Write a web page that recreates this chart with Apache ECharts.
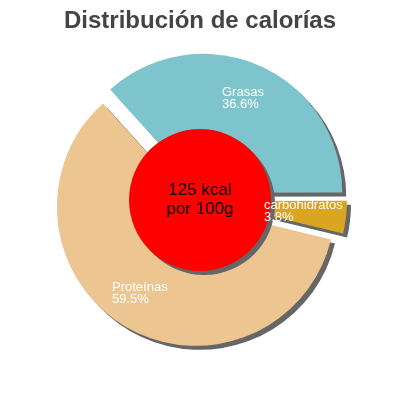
<!DOCTYPE html>
<html>
<head>
<meta charset="utf-8">
<script src="https://cdn.jsdelivr.net/npm/echarts@6/dist/echarts.min.js"></script>
<style>html,body{margin:0;padding:0;background:#fff}#c{width:400px;height:400px}</style>
</head>
<body>
<div id="c"></div>
<script>
const categories = ['Grasas', 'carbohidratos', 'Proteínas'];
const percents = [36.6, 3.8, 59.5];
const colors = ['#7DC4CC', '#DAA520', '#EDC591'];
const centerLines = ['125 kcal', 'por 100g'];
const titleText = 'Distribución de calorías';

const labelPos = [[222, 86], [264, 199], [112, 281]];
const shadow = { shadowColor: '#666', shadowBlur: 0, shadowOffsetX: 4, shadowOffsetY: 4 };
const FONT = 'Liberation Sans, Arial, sans-serif';

const chart = echarts.init(document.getElementById('c'), null, { renderer: 'canvas' });
chart.setOption({
  animation: false,
  title: {
    text: titleText, left: 'center', top: 4,
    textStyle: { fontFamily: FONT, fontSize: 24, fontWeight: 'bold', color: '#444' }
  },
  series: [
    {
      type: 'pie', z: 2,
      center: ['50%', '50%'],
      radius: [0, 139],
      startAngle: 132,
      selectedMode: 'multiple',
      selectedOffset: 8,
      silent: true,
      label: { show: false },
      labelLine: { show: false },
      data: categories.map((c, i) => ({
        name: c, value: percents[i], selected: true,
        itemStyle: Object.assign({ color: colors[i] }, shadow),
        select: { itemStyle: Object.assign({ color: colors[i] }, shadow) }
      }))
    },
    {
      type: 'pie', z: 3,
      center: ['50%', '50%'],
      radius: [0, 71],
      silent: true,
      label: {
        show: true, position: 'center', color: '#000',
        fontFamily: FONT, fontSize: 17, lineHeight: 19,
        formatter: centerLines.join('\n')
      },
      labelLine: { show: false },
      data: [{ name: 'center', value: 1, itemStyle: Object.assign({ color: '#FF0000' }, shadow) }]
    },
    {
      type: 'pie', z: 4,
      center: ['50%', '50%'],
      radius: [0, 139],
      startAngle: 132,
      silent: true,
      avoidLabelOverlap: false,
      itemStyle: { color: 'rgba(0,0,0,0)' },
      label: {
        show: true, position: 'inside', color: '#fff',
        fontFamily: FONT, fontSize: 13, lineHeight: 12,
        formatter: p => p.name + '\n' + p.value + '%'
      },
      labelLine: { show: false },
      labelLayout: p => ({ x: labelPos[p.dataIndex][0], y: labelPos[p.dataIndex][1], align: 'left', verticalAlign: 'top' }),
      data: categories.map((c, i) => ({ name: c, value: percents[i] }))
    }
  ]
});
</script>
</body>
</html>
